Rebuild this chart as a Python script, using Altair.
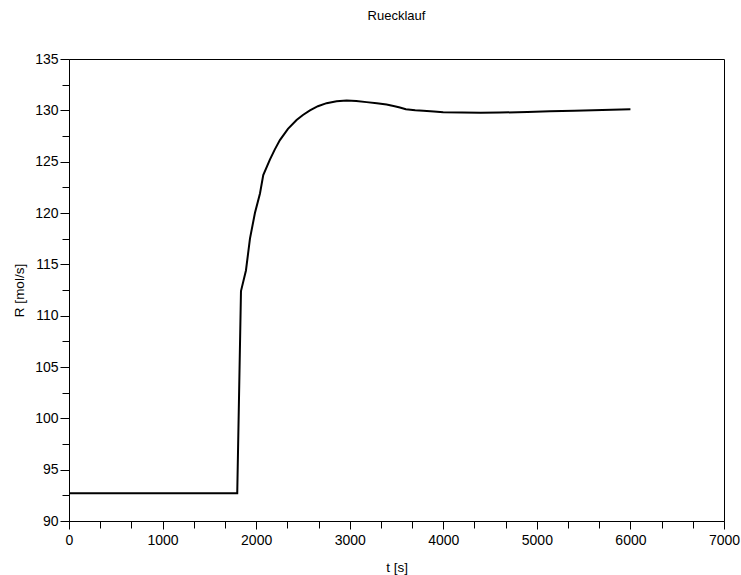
import altair as alt
import pandas as pd

# Curve
t_vals = [0, 1798, 1838, 1891, 1934, 1987, 2041, 2076, 2147, 2200, 2254, 2340, 2432, 2500,
          2575, 2660, 2753, 2860, 2967, 3070, 3180, 3290, 3394, 3480, 3536, 3600, 3700,
          3786, 3900, 3999, 4200, 4400, 4605, 4900, 5139, 5400, 5700, 6000]
r_vals = [92.7, 92.7, 112.4, 114.4, 117.5, 120.0, 121.9, 123.7, 125.2, 126.2, 127.1, 128.2,
          129.05, 129.55, 130.0, 130.4, 130.7, 130.88, 130.96, 130.92, 130.8, 130.7, 130.57,
          130.4, 130.28, 130.1, 130.0, 129.95, 129.88, 129.82, 129.78, 129.77, 129.78, 129.84,
          129.9, 129.96, 130.03, 130.1]

x_ticks = [0, 333.333, 666.667, 1000, 1333.333, 1666.667, 2000, 2333.333, 2666.667, 3000,
           3333.333, 3666.667, 4000, 4333.333, 4666.667, 5000, 5333.333, 5666.667, 6000,
           6333.333, 6666.667, 7000]
y_ticks = [90, 92.5, 95, 97.5, 100, 102.5, 105, 107.5, 110, 112.5, 115, 117.5, 120,
           122.5, 125, 127.5, 130, 132.5, 135]

df = pd.DataFrame({"t": t_vals, "R": r_vals})

FONT = "Liberation Sans"

chart = alt.Chart(df).mark_line(color="black", strokeWidth=2, interpolate="linear").encode(
    x=alt.X("t:Q", scale=alt.Scale(domain=[0, 7000], nice=False, zero=False),
            axis=alt.Axis(values=x_ticks, format="d", grid=False, title="t [s]",
                          labelExpr="abs(datum.value - round(datum.value/1000)*1000) < 1 ? datum.label : ''",
                          tickSize=alt.expr("abs(datum.value - round(datum.value/1000)*1000) < 1 ? 8 : 7"),
                          labelFlush=False, labelPadding=4, titlePadding=13)),
    y=alt.Y("R:Q", scale=alt.Scale(domain=[90, 135], nice=False, zero=False),
            axis=alt.Axis(values=y_ticks, format="d", grid=False, title="R [mol/s]",
                          labelExpr="abs(datum.value - round(datum.value/5)*5) < 0.01 ? datum.label : ''",
                          tickSize=alt.expr("abs(datum.value - round(datum.value/5)*5) < 0.01 ? 9 : 7"),
                          labelFlush=False, labelPadding=2, titlePadding=8)),
).properties(
    width=655, height=462,
    title=alt.TitleParams("Ruecklauf", fontSize=13, font=FONT, fontWeight="normal",
                          anchor="middle", offset=29, color="black"),
    autosize=alt.AutoSizeParams(type="none"),
    padding={"left": 69, "top": 59, "right": 17, "bottom": 54},
).configure_view(
    stroke="black", strokeWidth=1
).configure_axis(
    domainColor="black", tickColor="black", labelColor="black", titleColor="black",
    labelFont=FONT, titleFont=FONT, labelFontSize=14, titleFontSize=13.5,
    titleFontWeight="normal", domainWidth=1, tickWidth=1
)

chart.save("out.html", embed_options={"renderer": "svg", "actions": False})
